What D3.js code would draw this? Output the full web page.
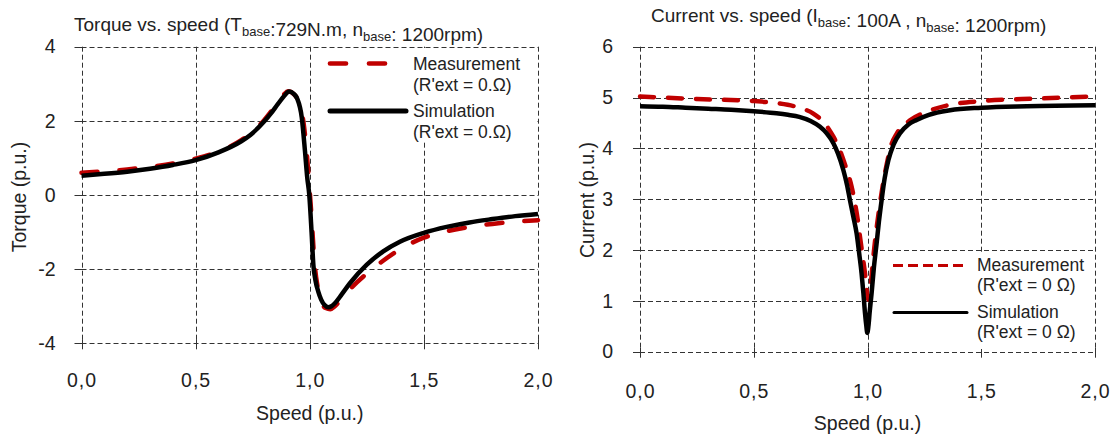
<!DOCTYPE html>
<html>
<head>
<meta charset="utf-8">
<script src="https://cdn.jsdelivr.net/npm/d3@7"></script>
<style>
  body { margin: 0; background: #fff; }
  svg { display: block; font-family: "Liberation Sans", Arial, sans-serif; }
</style>
</head>
<body>
<div id="chart"></div>
<script>
// Values
const speedTicks = [0, 0.5, 1, 1.5, 2];
const torqueTicks = [-4, -2, 0, 2, 4];
const currentTicks = [0, 1, 2, 3, 4, 5, 6];

// Torque vs speed, simulation
const torqueSimSpeed = [0, 0.1, 0.2, 0.3, 0.4, 0.5, 0.6, 0.7, 0.74, 0.8, 0.83, 0.86, 0.885, 0.91, 0.93, 0.945, 0.965, 0.979, 0.989, 0.998, 1.008, 1.016, 1.025, 1.037, 1.05, 1.065, 1.081, 1.095, 1.11, 1.14, 1.176, 1.25, 1.322, 1.395, 1.5, 1.6, 1.7, 1.8, 1.9, 2.0];
const torqueSim = [0.52, 0.57, 0.63, 0.71, 0.81, 0.94, 1.15, 1.45, 1.62, 1.98, 2.2, 2.45, 2.65, 2.79, 2.73, 2.6, 2.09, 1.19, 0.47, 0.0, -1.0, -1.9, -2.3, -2.6, -2.82, -2.97, -3.03, -3.0, -2.92, -2.68, -2.38, -1.88, -1.52, -1.26, -1.02, -0.86, -0.74, -0.65, -0.57, -0.51];

// Torque vs speed, measurement
const torqueMeasSpeed = [0, 0.1, 0.2, 0.3, 0.4, 0.5, 0.6, 0.7, 0.74, 0.8, 0.83, 0.86, 0.885, 0.905, 0.925, 0.945, 0.96, 0.975, 0.99, 1.0, 1.01, 1.02, 1.035, 1.05, 1.07, 1.09, 1.11, 1.14, 1.18, 1.25, 1.32, 1.4, 1.5, 1.6, 1.7, 1.8, 1.9, 2.0];
const torqueMeas = [0.60, 0.64, 0.69, 0.76, 0.85, 0.98, 1.17, 1.48, 1.66, 2.02, 2.25, 2.52, 2.7, 2.80, 2.75, 2.6, 2.35, 1.85, 0.9, 0.1, -0.8, -1.75, -2.5, -2.88, -3.05, -3.08, -3.0, -2.8, -2.52, -2.12, -1.78, -1.45, -1.15, -0.98, -0.86, -0.78, -0.72, -0.68];

// Current vs speed, simulation
const currentSimSpeed = [0, 0.1, 0.2, 0.3, 0.4, 0.5, 0.6, 0.65, 0.7, 0.75, 0.79, 0.82, 0.85, 0.87, 0.894, 0.91, 0.923, 0.938, 0.952, 0.963, 0.974, 0.982, 0.989, 0.995, 0.999, 1.004, 1.01, 1.018, 1.028, 1.04, 1.05, 1.062, 1.075, 1.092, 1.115, 1.143, 1.18, 1.216, 1.27, 1.363, 1.5, 1.7, 2.0];
const currentSim = [4.83, 4.82, 4.80, 4.78, 4.76, 4.73, 4.69, 4.66, 4.62, 4.54, 4.43, 4.30, 4.10, 3.90, 3.57, 3.28, 2.98, 2.65, 2.33, 1.95, 1.54, 1.15, 0.76, 0.5, 0.37, 0.5, 0.8, 1.15, 1.65, 2.13, 2.55, 2.98, 3.4, 3.77, 4.08, 4.30, 4.47, 4.56, 4.66, 4.75, 4.80, 4.83, 4.85];

// Current vs speed, measurement
const currentMeasSpeed = [0, 0.25, 0.5, 0.6, 0.7, 0.76, 0.81, 0.85, 0.88, 0.909, 0.93, 0.945, 0.957, 0.967, 0.978, 0.989, 0.997, 1.004, 1.012, 1.02, 1.03, 1.042, 1.055, 1.07, 1.085, 1.1, 1.13, 1.19, 1.26, 1.355, 1.5, 1.75, 2.0];
const currentMeas = [5.02, 4.97, 4.93, 4.89, 4.80, 4.69, 4.50, 4.23, 3.95, 3.57, 3.25, 2.92, 2.6, 2.26, 1.9, 1.54, 1.2, 1.02, 1.2, 1.6, 2.05, 2.5, 2.92, 3.35, 3.7, 4.0, 4.3, 4.56, 4.72, 4.85, 4.93, 4.98, 5.02];

const RED = "#c00000";
const GRID = "#333";

// comma decimal, plain hyphen minus
const locale = d3.formatLocale({ decimal: ",", thousands: ".", grouping: [3], currency: ["", ""], minus: "-" });
const fmtX = locale.format(".1f");
const fmtY = locale.format("d");

const svg = d3.select("#chart")
    .append("svg")
    .attr("width", 1118)
    .attr("height", 437);

svg.append("rect").attr("width", 1118).attr("height", 437).attr("fill", "#fff");

function zip(xs, ys) {
    return xs.map((x, i) => [x, ys[i]]);
}

function drawPanel(cfg) {
    const x = d3.scaleLinear().domain([0, 2]).range(cfg.xRange);
    const y = d3.scaleLinear().domain(cfg.yDomain).range(cfg.yRange);
    const g = svg.append("g");
    const [x0, x1] = cfg.xRange;
    const [y0, y1] = cfg.yRange; // y0 bottom, y1 top

    // gridlines (dashed, including the frame)
    g.append("g").selectAll("line")
        .data(cfg.yTicks)
        .join("line")
        .attr("x1", x0).attr("x2", x1)
        .attr("y1", d => Math.round(y(d)) + 0.5).attr("y2", d => Math.round(y(d)) + 0.5)
        .attr("stroke", GRID).attr("stroke-width", 1).attr("stroke-dasharray", "5,3");
    g.append("g").selectAll("line")
        .data(speedTicks)
        .join("line")
        .attr("x1", d => Math.round(x(d)) + 0.5).attr("x2", d => Math.round(x(d)) + 0.5)
        .attr("y1", y1).attr("y2", y0)
        .attr("stroke", GRID).attr("stroke-width", 1).attr("stroke-dasharray", "5,3");

    // small tick marks crossing the axes
    g.append("g").selectAll("line")
        .data(cfg.yTicks)
        .join("line")
        .attr("x1", x0 - 7).attr("x2", x0 + 4)
        .attr("y1", d => Math.round(y(d)) + 0.5).attr("y2", d => Math.round(y(d)) + 0.5)
        .attr("stroke", GRID);
    g.append("g").selectAll("line")
        .data(speedTicks)
        .join("line")
        .attr("x1", d => Math.round(x(d)) + 0.5).attr("x2", d => Math.round(x(d)) + 0.5)
        .attr("y1", y0 - 4).attr("y2", y0 + 6)
        .attr("stroke", GRID);

    // tick labels through d3 axes
    const xAxis = g.append("g")
        .attr("transform", `translate(0,${y0})`)
        .call(d3.axisBottom(x).tickValues(speedTicks).tickFormat(fmtX).tickSize(0).tickPadding(cfg.xPad));
    const yAxis = g.append("g")
        .attr("transform", `translate(${x0},0)`)
        .call(d3.axisLeft(y).tickValues(cfg.yTicks).tickFormat(fmtY).tickSize(0).tickPadding(cfg.yPad));
    [xAxis, yAxis].forEach(a => {
        a.select(".domain").remove();
        a.selectAll("text")
            .attr("font-family", "'Liberation Sans', Arial, sans-serif")
            .attr("font-size", 19.5)
            .attr("fill", "#222");
    });
    xAxis.selectAll("text").attr("letter-spacing", 1);

    // axis titles
    g.append("text")
        .attr("x", (x0 + x1) / 2).attr("y", cfg.xTitleY)
        .attr("text-anchor", "middle")
        .attr("font-size", 19.5).attr("fill", "#222")
        .text("Speed (p.u.)");
    g.append("text")
        .attr("transform", `translate(${cfg.yTitleX},${cfg.yTitleY}) rotate(-90)`)
        .attr("text-anchor", "middle")
        .attr("font-size", 19.5).attr("fill", "#222")
        .text(cfg.yTitle);

    // chart title with subscripts
    const t = g.append("text")
        .attr("x", cfg.titleX).attr("y", cfg.titleY)
        .attr("font-size", 19).attr("fill", "#222");
    cfg.title.forEach(part => {
        if (part.sub) {
            t.append("tspan").attr("dy", 5).attr("font-size", 13).text(part.sub);
            t.append("tspan").attr("dy", -5).text("");
        } else {
            t.append("tspan").text(part.text);
        }
    });

    // curves
    const line = d3.line()
        .x(d => x(d[0]))
        .y(d => y(d[1]))
        .curve(d3.curveMonotoneX);

    g.append("path")
        .datum(zip(cfg.meas[0], cfg.meas[1]))
        .attr("d", line)
        .attr("fill", "none")
        .attr("stroke", RED)
        .attr("stroke-width", 4.5)
        .attr("stroke-linecap", "round")
        .attr("stroke-dasharray", cfg.measDash);

    g.append("path")
        .datum(zip(cfg.sim[0], cfg.sim[1]))
        .attr("d", line)
        .attr("fill", "none")
        .attr("stroke", "#000")
        .attr("stroke-width", 4.5)
        .attr("stroke-linejoin", "round");

    // legend (white box over the gridlines)
    const L = cfg.legend;
    const lg = g.append("g");
    lg.append("rect")
        .attr("x", L.box[0]).attr("y", L.box[1])
        .attr("width", L.box[2]).attr("height", L.box[3])
        .attr("fill", "#fff");
    lg.append("line")
        .attr("x1", L.redLine[0]).attr("x2", L.redLine[1])
        .attr("y1", L.redLine[2]).attr("y2", L.redLine[2])
        .attr("stroke", RED).attr("stroke-width", L.redWidth)
        .attr("stroke-linecap", L.redCap)
        .attr("stroke-dasharray", L.redDash);
    lg.append("line")
        .attr("x1", L.blackLine[0]).attr("x2", L.blackLine[1])
        .attr("y1", L.blackLine[2]).attr("y2", L.blackLine[2])
        .attr("stroke", "#000").attr("stroke-width", L.blackWidth)
        .attr("stroke-linecap", "round");
    L.labels.forEach((txt, i) => {
        lg.append("text")
            .attr("x", L.textX).attr("y", L.textY[i])
            .attr("font-size", 17.5).attr("fill", "#222")
            .text(txt);
    });
}

// Left panel: torque
drawPanel({
    xRange: [81.5, 538],
    yDomain: [-4, 4],
    yRange: [343.3, 46.7],
    yTicks: torqueTicks,
    xPad: 30, yPad: 26,
    xTitleY: 420,
    yTitle: "Torque (p.u.)", yTitleX: 26, yTitleY: 197,
    titleX: 74, titleY: 31,
    title: [{ text: "Torque vs. speed (T" }, { sub: "base" }, { text: ":729N.m, n" }, { sub: "base" }, { text: ": 1200rpm)" }],
    sim: [torqueSimSpeed, torqueSim],
    meas: [torqueMeasSpeed, torqueMeas],
    measDash: "16,22",
    legend: {
        box: [313, 48, 223, 94],
        redLine: [330, 388, 63.5], redWidth: 4.7, redCap: "round", redDash: "16,23",
        blackLine: [330, 406, 111], blackWidth: 5,
        textX: 413,
        textY: [70, 91, 117, 138],
        labels: ["Measurement", "(R'ext = 0.\u03A9)", "Simulation", "(R'ext = 0.\u03A9)"]
    }
});

// Right panel: current
drawPanel({
    xRange: [640, 1095],
    yDomain: [0, 6],
    yRange: [351.7, 46.7],
    yTicks: currentTicks,
    xPad: 32, yPad: 27,
    xTitleY: 430,
    yTitle: "Current (p.u.)", yTitleX: 594, yTitleY: 200,
    titleX: 651, titleY: 22,
    title: [{ text: "Current vs. speed (I" }, { sub: "base" }, { text: ": 100A , n" }, { sub: "base" }, { text: ": 1200rpm)" }],
    sim: [currentSimSpeed, currentSim],
    meas: [currentMeasSpeed, currentMeas],
    measDash: "14,14",
    legend: {
        box: [880, 253, 213, 96],
        redLine: [893, 963, 265.5], redWidth: 3, redCap: "butt", redDash: "10,5",
        blackLine: [894, 967, 312.5], blackWidth: 3,
        textX: 977,
        textY: [271, 291, 318, 338],
        labels: ["Measurement", "(R'ext = 0 \u03A9)", "Simulation", "(R'ext = 0 \u03A9)"]
    }
});
</script>
</body>
</html>
